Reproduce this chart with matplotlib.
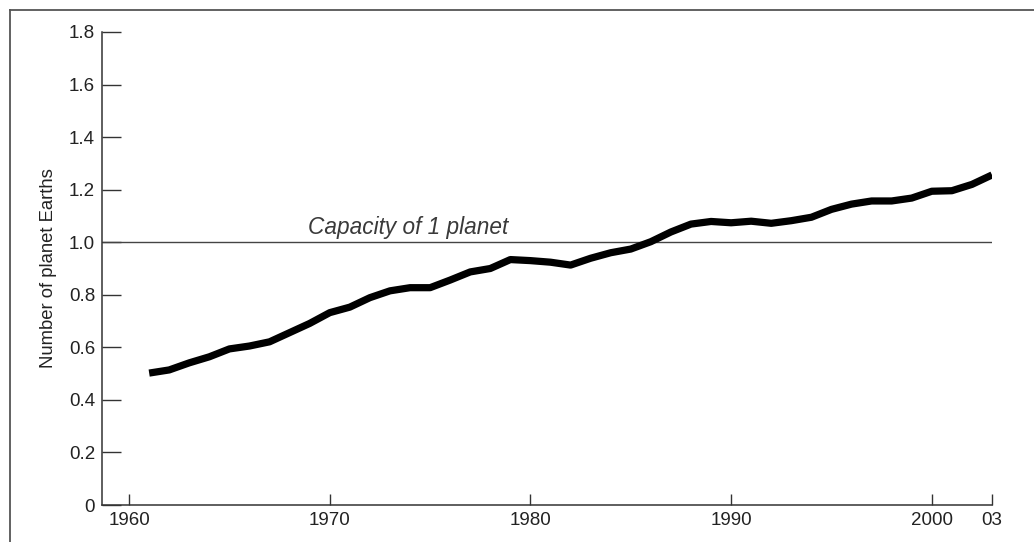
import matplotlib
matplotlib.use("Agg")
import matplotlib.pyplot as plt
from matplotlib.lines import Line2D

years = list(range(1961, 2004))
earths = [0.502, 0.514, 0.541, 0.564, 0.594, 0.605, 0.621, 0.656, 0.691, 0.732,
          0.753, 0.789, 0.815, 0.827, 0.827, 0.856, 0.887, 0.900, 0.934, 0.930,
          0.924, 0.913, 0.939, 0.960, 0.974, 1.002, 1.039, 1.069, 1.079, 1.074,
          1.080, 1.072, 1.082, 1.095, 1.125, 1.145, 1.157, 1.157, 1.168, 1.194,
          1.196, 1.220, 1.256]
capacity = 1.0
xticks = [1960, 1970, 1980, 1990, 2000, 2003]
xtick_labels = ["1960", "1970", "1980", "1990", "2000", "03"]
yticks = [0, 0.2, 0.4, 0.6, 0.8, 1.0, 1.2, 1.4, 1.6, 1.8]
ytick_labels = ["0", "0.2", "0.4", "0.6", "0.8", "1.0", "1.2", "1.4", "1.6", "1.8"]
ylabel = "Number of planet Earths"
capacity_label = "Capacity of 1 planet"

plt.rcParams['font.family'] = ['Liberation Sans', 'DejaVu Sans']

W, H = 1034, 542
fig = plt.figure(figsize=(W / 100, H / 100), dpi=100)
ax = fig.add_axes([102 / W, 1 - 505 / H, (992 - 102) / W, (505 - 32) / H])

ax.plot(years, earths, color='black', lw=5.2, solid_capstyle='butt', solid_joinstyle='round', zorder=3)
ax.axhline(capacity, color='#444444', lw=1.0, zorder=2)
ax.text(1968.93, capacity + 0.012, capacity_label, style='italic', fontsize=16.3,
        color='#3a3a3a', ha='left', va='bottom')

ax.set_xlim(1958.65, 2003)
ax.set_ylim(0, 1.8)
ax.set_xticks(xticks)
ax.set_xticklabels(xtick_labels)
ax.set_yticks(yticks)
ax.set_yticklabels(ytick_labels)
ax.tick_params(axis='y', direction='in', length=13.5, width=1.0, color='#333333',
               labelsize=13.5, pad=5, labelcolor='#222222')
ax.tick_params(axis='x', direction='in', length=8, width=1.0, color='#333333',
               labelsize=13.5, pad=5, labelcolor='#222222')
for s in ['top', 'right']:
    ax.spines[s].set_visible(False)
for s in ['left', 'bottom']:
    ax.spines[s].set_color('#333333')
    ax.spines[s].set_linewidth(1.1)

ax.set_ylabel(ylabel, fontsize=13.3, color='#222222')
ax.yaxis.set_label_coords(-45 / (992 - 102), (505 - 268) / (505 - 32))

# frame around figure (left and top)
fig.add_artist(Line2D([9.5 / W, 9.5 / W], [0, 1 - 9.5 / H], color='#555555', lw=1.3, transform=fig.transFigure))
fig.add_artist(Line2D([9.5 / W, 1], [1 - 9.5 / H, 1 - 9.5 / H], color='#555555', lw=1.3, transform=fig.transFigure))

fig.savefig('out.png', dpi=100)
